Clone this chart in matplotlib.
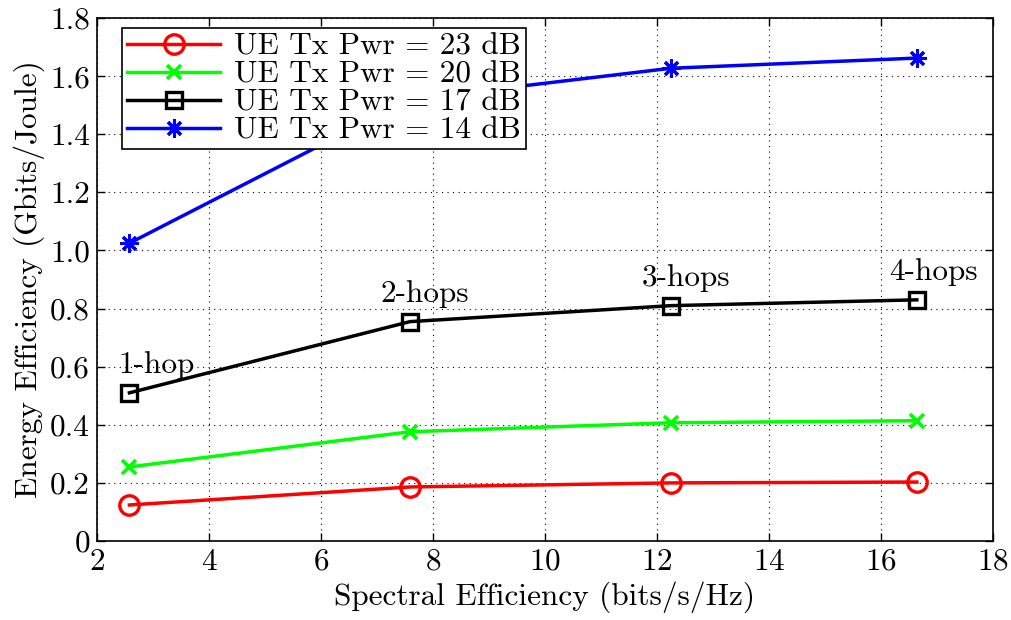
import numpy as np
import matplotlib.pyplot as plt

# spectral efficiency for 1..4 hops
se = [2.58, 7.59, 12.25, 16.64]

ee_23 = [0.124, 0.186, 0.200, 0.203]
ee_20 = [0.255, 0.376, 0.407, 0.414]
ee_17 = [0.510, 0.755, 0.810, 0.830]
ee_14 = [1.025, 1.520, 1.627, 1.662]

hop_labels = ['1-hop', '2-hops', '3-hops', '4-hops']

xticks = [2, 4, 6, 8, 10, 12, 14, 16, 18]
yticks = [0, 0.2, 0.4, 0.6, 0.8, 1.0, 1.2, 1.4, 1.6, 1.8]
ytick_labels = ['0', '0.2', '0.4', '0.6', '0.8', '1.0', '1.2', '1.4', '1.6', '1.8']

plt.rcParams['font.family'] = ['cmr10', 'DejaVu Serif']
plt.rcParams['mathtext.fontset'] = 'cm'
plt.rcParams['axes.formatter.use_mathtext'] = True

fs = 22.5
fig = plt.figure(figsize=(10.12, 6.2), dpi=100)
ax = fig.add_axes([0.0958, 0.1274, 0.8854, 0.8436])

lw = 2.5
ax.plot(se, ee_23, color='red', lw=lw, marker='o', ms=14, mfc='none', mew=2.4,
        label='UE Tx Pwr = 23 dB')
ax.plot(se, ee_20, color='#00ff00', lw=lw, marker='x', ms=10, mew=2.6,
        label='UE Tx Pwr = 20 dB')
ax.plot(se, ee_17, color='black', lw=lw, marker='s', ms=11.5, mfc='none', mew=2.4,
        label='UE Tx Pwr = 17 dB')
ax.plot(se, ee_14, color='blue', lw=lw, marker=(8, 2, 0), ms=13, mew=2.2,
        label='UE Tx Pwr = 14 dB')

# hop annotations above the 17 dB curve
offsets = [(-8, 10), (11, 10), (11, 10), (12, 10)]
for i in range(4):
    ha = 'left' if i == 0 else 'center'
    ax.annotate(hop_labels[i], (se[i], ee_17[i]), xytext=offsets[i],
                textcoords='offset points', ha=ha, va='bottom', fontsize=fs)

ax.set_xlim(2, 18)
ax.set_ylim(0, 1.8)
ax.set_xticks(xticks)
ax.set_yticks(yticks)
ax.set_yticklabels(ytick_labels)
ax.tick_params(direction='in', top=True, right=True, labelsize=fs, length=6, width=1, pad=5)
ax.grid(True, linestyle=(0, (1, 4)), color='black', lw=0.8)
for s in ax.spines.values():
    s.set_linewidth(1.2)

ax.set_xlabel('Spectral Efficiency (bits/s/Hz)', fontsize=fs, labelpad=4)
ax.set_ylabel('Energy Efficiency (Gbits/Joule)', fontsize=fs, labelpad=4)

leg = ax.legend(loc='upper left', bbox_to_anchor=(122 / 1012, 1 - 28 / 620),
                bbox_transform=fig.transFigure, borderaxespad=0, fontsize=fs,
                handlelength=3.0, handletextpad=0.45, labelspacing=0.0,
                borderpad=0.15, fancybox=False, framealpha=1)
leg.get_frame().set_edgecolor('black')
leg.get_frame().set_linewidth(1.2)

fig.savefig('out.png', dpi=100)
